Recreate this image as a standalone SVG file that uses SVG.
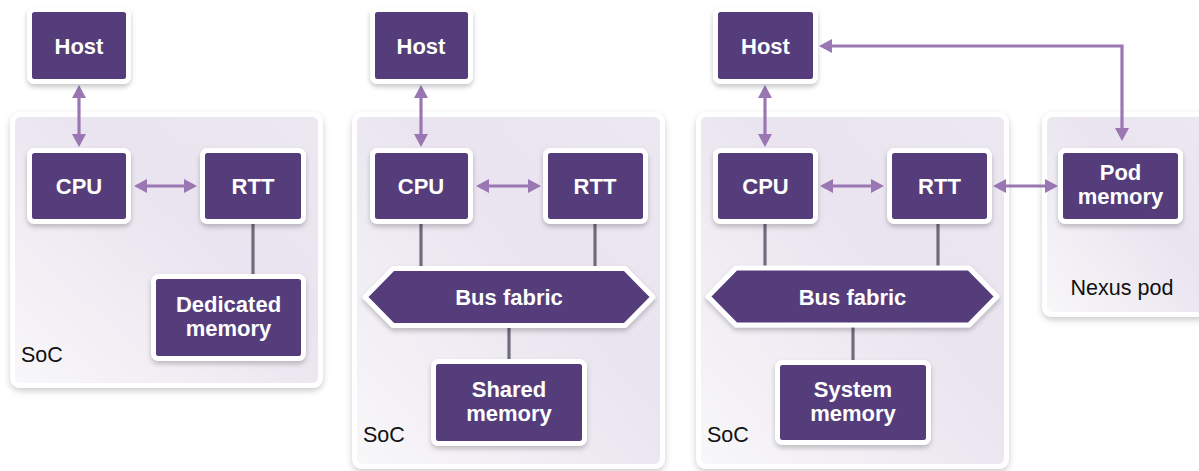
<svg xmlns="http://www.w3.org/2000/svg" width="1199" height="471" viewBox="0 0 1199 471">
<style>
.box{fill:#543e7b;stroke:#ffffff;stroke-width:5;filter:url(#sh)}
.panel{stroke:#ffffff;stroke-width:5;fill:url(#pg);filter:url(#sh2)}
.lbl{font-family:"Liberation Sans",Arial,sans-serif;font-weight:bold;font-size:22px;fill:#ffffff;text-anchor:middle}
.cap{font-family:"Liberation Sans",Arial,sans-serif;font-size:21.5px;fill:#111111}
.arr{stroke:#9a76b3;stroke-width:3.2;fill:none;marker-start:url(#ah);marker-end:url(#ah)}
.arr1{stroke:#9a76b3;stroke-width:3.2;fill:none;marker-start:url(#ah);marker-end:url(#ah)}
.ln{stroke:#6f6c7c;stroke-width:3.2;fill:none}
</style>
<defs>
<linearGradient id="pg" x1="0" y1="1" x2="1" y2="0">
<stop offset="0" stop-color="#f8f7f9"/>
<stop offset="0.6" stop-color="#e9e4ef"/>
<stop offset="1" stop-color="#ece8f1"/>
</linearGradient>
<filter id="sh" x="-20%" y="-20%" width="140%" height="150%">
<feDropShadow dx="0" dy="3" stdDeviation="2.5" flood-color="#000" flood-opacity="0.22"/>
</filter>
<filter id="sh2" x="-10%" y="-10%" width="120%" height="120%">
<feDropShadow dx="0" dy="3" stdDeviation="3" flood-color="#000" flood-opacity="0.2"/>
</filter>
<marker id="ah" viewBox="0 0 13 14" refX="2" refY="7" markerWidth="13" markerHeight="14" markerUnits="userSpaceOnUse" orient="auto-start-reverse">
<path d="M0,0 L13,7 L0,14 z" fill="#9a76b3"/>
</marker>
</defs>

<g id="panels">
<g id="soc1"><rect class="panel" x="12.5" y="114.5" width="308" height="271" rx="8"/><text class="cap" x="21" y="362">SoC</text></g>
<g id="soc2"><rect class="panel" x="354.5" y="114.5" width="308" height="352" rx="8"/><text class="cap" x="363" y="442">SoC</text></g>
<g id="soc3"><rect class="panel" x="698.5" y="114.5" width="308" height="352" rx="8"/><text class="cap" x="707" y="442">SoC</text></g>
<g id="nexus"><rect class="panel" x="1044.5" y="114.5" width="162" height="200" rx="8"/><text class="cap" x="1122" y="295" text-anchor="middle">Nexus pod</text></g>
</g>

<g id="connectors">
<path class="arr" d="M79,96 V136"/>
<path class="arr" d="M145,186 H186"/>
<path class="ln" d="M253,224 V275"/>
<path class="arr" d="M421,96 V136"/>
<path class="arr" d="M487,186 H530"/>
<path class="ln" d="M421,224 V268"/>
<path class="ln" d="M595,224 V268"/>
<path class="ln" d="M509,326 V360"/>
<path class="arr" d="M765,96 V136"/>
<path class="arr" d="M831,186 H873"/>
<path class="arr" d="M1004,186 H1047"/>
<path class="arr" d="M830,46 H1122 V130"/>
<path class="ln" d="M765,224 V268"/>
<path class="ln" d="M938,224 V268"/>
<path class="ln" d="M853,326 V361"/>
</g>

<g id="host1"><rect class="box" x="29.5" y="9.5" width="99" height="72" rx="5"/><text class="lbl" x="79" y="53.5">Host</text></g>
<g id="cpu1"><rect class="box" x="29.5" y="150.5" width="99" height="71" rx="5"/><text class="lbl" x="79" y="194">CPU</text></g>
<g id="rtt1"><rect class="box" x="202.5" y="150.5" width="101" height="71" rx="5"/><text class="lbl" x="253" y="194">RTT</text></g>
<g id="dedmem"><rect class="box" x="153.5" y="276.5" width="150" height="82" rx="5"/><text class="lbl" x="228.5" y="312">Dedicated</text><text class="lbl" x="228.5" y="336">memory</text></g>

<g id="host2"><rect class="box" x="372.5" y="9.5" width="98" height="72" rx="5"/><text class="lbl" x="421" y="53.5">Host</text></g>
<g id="cpu2"><rect class="box" x="372.5" y="150.5" width="98" height="71" rx="5"/><text class="lbl" x="421" y="194">CPU</text></g>
<g id="rtt2"><rect class="box" x="545.5" y="150.5" width="100" height="71" rx="5"/><text class="lbl" x="595" y="194">RTT</text></g>
<g id="bus2"><polygon class="box" stroke-linejoin="round" points="365,297 393,268.5 625,268.5 653,297 625,325.5 393,325.5"/><text class="lbl" x="509" y="305">Bus fabric</text></g>
<g id="sharedmem"><rect class="box" x="433.5" y="361.5" width="151" height="82" rx="5"/><text class="lbl" x="509" y="397">Shared</text><text class="lbl" x="509" y="421">memory</text></g>

<g id="host3"><rect class="box" x="715.5" y="9.5" width="100" height="72" rx="5"/><text class="lbl" x="765.5" y="53.5">Host</text></g>
<g id="cpu3"><rect class="box" x="715.5" y="150.5" width="100" height="71" rx="5"/><text class="lbl" x="765.5" y="194">CPU</text></g>
<g id="rtt3"><rect class="box" x="889.5" y="150.5" width="100" height="71" rx="5"/><text class="lbl" x="939.5" y="194">RTT</text></g>
<g id="bus3"><polygon class="box" stroke-linejoin="round" points="708,296.5 736,268 969,268 997,296.5 969,325 736,325"/><text class="lbl" x="852.5" y="305">Bus fabric</text></g>
<g id="sysmem"><rect class="box" x="777.5" y="362.5" width="151" height="80" rx="5"/><text class="lbl" x="853" y="397">System</text><text class="lbl" x="853" y="421">memory</text></g>
<g id="podmem"><rect class="box" x="1060.5" y="150.5" width="120" height="71" rx="5"/><text class="lbl" x="1120.5" y="180">Pod</text><text class="lbl" x="1120.5" y="204">memory</text></g>
</svg>
